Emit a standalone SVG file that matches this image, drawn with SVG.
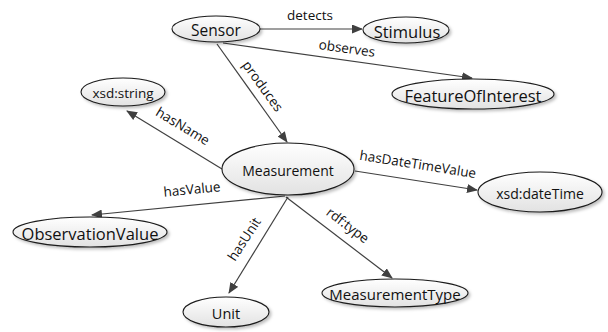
<svg xmlns="http://www.w3.org/2000/svg" width="608" height="332" viewBox="0 0 608 332">
<defs>
<linearGradient id="g" x1="0" y1="0" x2="0" y2="1">
<stop offset="0" stop-color="#ffffff"/>
<stop offset="1" stop-color="#e2e2e2"/>
</linearGradient>
<filter id="sh" x="-20%" y="-30%" width="150%" height="180%">
<feDropShadow dx="2" dy="2" stdDeviation="1.5" flood-color="#000" flood-opacity="0.25"/>
</filter>
<marker id="ah" markerWidth="11" markerHeight="9" refX="10" refY="4.5" orient="auto" markerUnits="userSpaceOnUse">
<path d="M0,0 L11,4.5 L0,9 Z" fill="#404040"/>
</marker>
<style>
.n ellipse{fill:url(#g);stroke:#1a1a1a;stroke-width:1.1;filter:url(#sh)}
.n text{font-family:"Open Sans","Liberation Sans",sans-serif;fill:#111;text-anchor:middle;dominant-baseline:central}
.c line{stroke:#404040;stroke-width:1.2;marker-end:url(#ah)}
.c text{font-family:"Open Sans","Liberation Sans",sans-serif;font-size:13.5px;fill:#111;text-anchor:middle;dominant-baseline:central}
</style>
</defs>
<g id="connectors" class="c">
<line x1="260" y1="29" x2="362" y2="29"/>
<text x="310" y="15">detects</text>
<line x1="223" y1="43" x2="472" y2="78"/>
<text x="347" y="48" transform="rotate(8 347 48)">observes</text>
<line x1="217" y1="44" x2="287" y2="142"/>
<text x="263" y="86" transform="rotate(54 263 86)">produces</text>
<line x1="222" y1="169" x2="127" y2="111"/>
<text x="183" y="126" transform="rotate(31 183 126)">hasName</text>
<line x1="355" y1="171" x2="477" y2="190"/>
<text x="418" y="164" transform="rotate(9 418 164)">hasDateTimeValue</text>
<line x1="285" y1="196" x2="92" y2="215"/>
<text x="192" y="189" transform="rotate(-5.6 192 189)">hasValue</text>
<line x1="288" y1="197" x2="229" y2="293"/>
<text x="244" y="239" transform="rotate(-57 244 239)">hasUnit</text>
<line x1="286" y1="197" x2="392" y2="278"/>
<text x="348" y="225" transform="rotate(37 348 225)">rdf:type</text>
</g>
<g id="Sensor" class="n"><ellipse cx="216" cy="29" rx="44" ry="13"/><text x="216" y="30" font-size="15.5">Sensor</text></g>
<g id="Stimulus" class="n"><ellipse cx="406" cy="30" rx="43" ry="13"/><text x="407" y="31" font-size="16.5">Stimulus</text></g>
<g id="FeatureOfInterest" class="n"><ellipse cx="473" cy="94" rx="81" ry="15"/><text x="473" y="95" font-size="16.5">FeatureOfInterest</text></g>
<g id="xsd_string" class="n"><ellipse cx="123" cy="92" rx="42" ry="14"/><text x="123" y="93" font-size="13.5">xsd:string</text></g>
<g id="Measurement" class="n"><ellipse cx="288" cy="169" rx="66" ry="26"/><text x="288" y="170" font-size="14">Measurement</text></g>
<g id="xsd_dateTime" class="n"><ellipse cx="540" cy="192" rx="62" ry="20"/><text x="540" y="193" font-size="14">xsd:dateTime</text></g>
<g id="ObservationValue" class="n"><ellipse cx="90" cy="232" rx="77" ry="15"/><text x="90" y="233" font-size="16.5">ObservationValue</text></g>
<g id="Unit" class="n"><ellipse cx="226" cy="312" rx="43" ry="15"/><text x="226" y="313" font-size="14.5">Unit</text></g>
<g id="MeasurementType" class="n"><ellipse cx="395" cy="293" rx="73" ry="14"/><text x="395" y="294" font-size="15">MeasurementType</text></g>
</svg>
